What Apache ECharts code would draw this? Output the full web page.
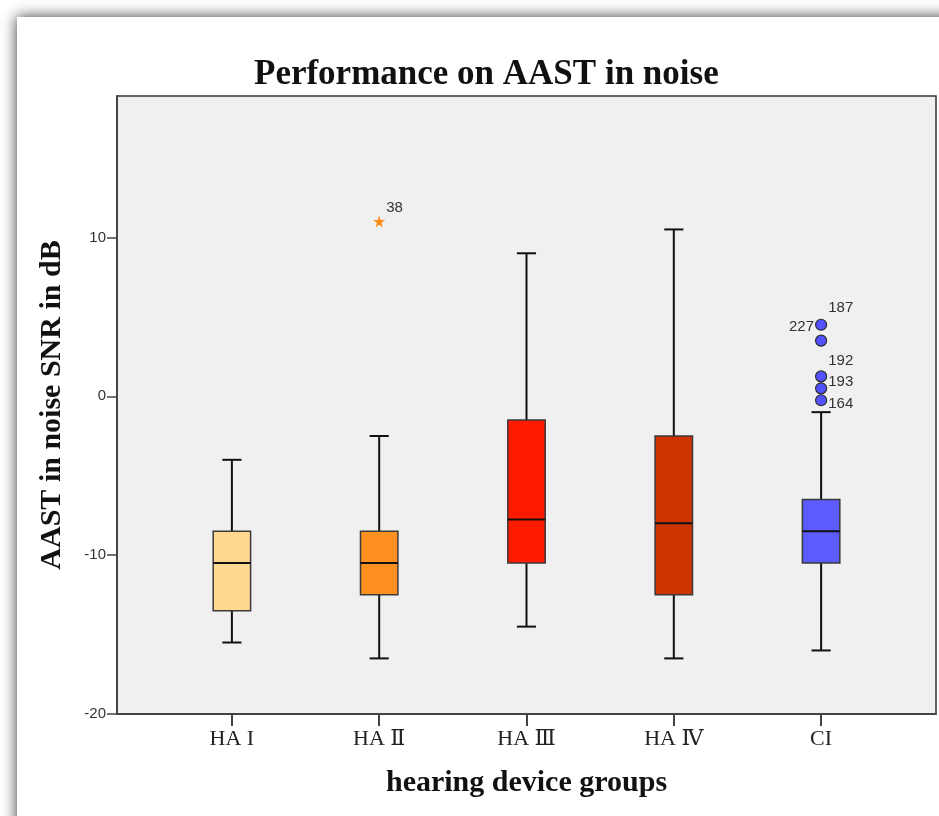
<!DOCTYPE html>
<html>
<head>
<meta charset="utf-8">
<script src="https://cdn.jsdelivr.net/npm/echarts@6/dist/echarts.min.js"></script>
<style>
  html, body { margin: 0; padding: 0; background: #fff; }
  #chart { width: 939px; height: 816px; }
</style>
</head>
<body>
<div id="chart"></div>
<script>
// groups on the x axis
const categories = ['HA I', 'HA Ⅱ', 'HA Ⅲ', 'HA Ⅳ', 'CI'];

// box statistics per group (dB)
const whiskerLow  = [-15.5, -16.5, -14.5, -16.5, -16];
const quartile1   = [-13.5, -12.5, -10.5, -12.5, -10.5];
const medians     = [-10.5, -10.5, -7.75, -8, -8.5];
const quartile3   = [-8.5, -8.5, -1.5, -2.5, -6.5];
const whiskerHigh = [-4, -2.5, 9, 10.5, -1];

// extreme value in HA II (case 38)
const extremeValues = [11];
const extremeLabels = ['38'];

// outliers in CI
const outlierValues = [4.5, 3.5, 1.25, 0.5, -0.25];
const outlierLabels = ['227', '187', '192', '193', '164'];

const yTicks = [-20, -10, 0, 10];

// styling
const boxColors = ['#ffd98f', '#ff8f1f', '#ff1a00', '#cc3300', '#5b5bff'];
const outlierLabelPlace = [
  { position: 'left', offset: [0, 2] },
  { position: 'right', offset: [0, -33] },
  { position: 'right', offset: [0, -16] },
  { position: 'right', offset: [0, -6] },
  { position: 'right', offset: [0, 4] }
];
const serif = '"Liberation Serif", "DejaVu Serif", "Times New Roman", serif';
const sans = '"Liberation Sans", Arial, sans-serif';

const boxData = categories.map(function (c, i) {
  return [i, whiskerLow[i], quartile1[i], medians[i], quartile3[i], whiskerHigh[i]];
});

function renderBox(params, api) {
  const x = api.value(0);
  const unit = api.size([1, 0])[0];
  const half = unit * 0.127;
  const cap = unit * 0.065;
  const low = api.coord([x, api.value(1)]);
  const q1 = api.coord([x, api.value(2)]);
  const med = api.coord([x, api.value(3)]);
  const q3 = api.coord([x, api.value(4)]);
  const high = api.coord([x, api.value(5)]);
  const cx = low[0];
  const line = { stroke: '#111', lineWidth: 2 };
  return {
    type: 'group',
    children: [
      { type: 'line', shape: { x1: cx, y1: low[1], x2: cx, y2: q1[1] }, style: line },
      { type: 'line', shape: { x1: cx, y1: q3[1], x2: cx, y2: high[1] }, style: line },
      { type: 'line', shape: { x1: cx - cap, y1: low[1], x2: cx + cap, y2: low[1] }, style: line },
      { type: 'line', shape: { x1: cx - cap, y1: high[1], x2: cx + cap, y2: high[1] }, style: line },
      {
        type: 'rect',
        shape: { x: cx - half, y: q3[1], width: half * 2, height: q1[1] - q3[1] },
        style: { fill: boxColors[params.dataIndex], stroke: '#3a3a3a', lineWidth: 1.5 }
      },
      { type: 'line', shape: { x1: cx - half, y1: med[1], x2: cx + half, y2: med[1] }, style: line }
    ]
  };
}

const chart = echarts.init(document.getElementById('chart'));

chart.setOption({
  backgroundColor: '#fff',
  animation: false,
  graphic: [{
    type: 'rect',
    z: -10,
    shape: { x: 17, y: 17, width: 1000, height: 900 },
    style: { fill: '#fff', shadowBlur: 14, shadowColor: 'rgba(0,0,0,0.8)' }
  }],
  title: {
    text: 'Performance on AAST in noise',
    left: 249,
    top: 52,
    textStyle: { fontFamily: serif, fontWeight: 'bold', fontSize: 35, color: '#111' }
  },
  grid: {
    left: 117, top: 96, right: 3, bottom: 102,
    show: true,
    backgroundColor: '#f0f0f0',
    borderColor: '#333',
    borderWidth: 1.5
  },
  xAxis: {
    type: 'value',
    min: -0.78,
    max: 4.78,
    name: 'hearing device groups',
    nameLocation: 'middle',
    nameGap: 54,
    nameTextStyle: { fontFamily: serif, fontWeight: 'bold', fontSize: 30, color: '#111' },
    splitLine: { show: false },
    axisLine: { onZero: false, lineStyle: { color: '#444', width: 2 } },
    axisTick: { customValues: [0, 1, 2, 3, 4], length: 12, lineStyle: { color: '#444', width: 2 } },
    axisLabel: {
      customValues: [0, 1, 2, 3, 4],
      formatter: function (v) { return categories[Math.round(v)]; },
      margin: 14,
      fontFamily: serif,
      fontSize: 22,
      color: '#222'
    }
  },
  yAxis: {
    type: 'value',
    min: -20,
    max: 18.9,
    name: 'AAST in noise SNR in dB',
    nameLocation: 'middle',
    nameRotate: 90,
    nameGap: 50,
    nameTextStyle: { fontFamily: serif, fontWeight: 'bold', fontSize: 30, color: '#111' },
    splitLine: { show: false },
    axisLine: { show: true, onZero: false, lineStyle: { color: '#444', width: 2 } },
    axisTick: { show: true, customValues: yTicks, length: 10, lineStyle: { color: '#444', width: 1.5 } },
    axisLabel: { customValues: yTicks, margin: 11, fontFamily: sans, fontSize: 15, color: '#333' }
  },
  series: [
    {
      type: 'custom',
      renderItem: renderBox,
      encode: { x: 0, y: [1, 2, 3, 4, 5] },
      data: boxData
    },
    {
      type: 'scatter',
      symbol: 'path://M50,0 L61,35 L98,35 L68,57 L79,91 L50,70 L21,91 L32,57 L2,35 L39,35 Z',
      symbolSize: 12,
      itemStyle: { color: '#ff8c1a', opacity: 1 },
      label: {
        show: true,
        position: 'right',
        offset: [-4, -14],
        formatter: '{b}',
        fontFamily: sans,
        fontSize: 15,
        color: '#333'
      },
      data: extremeValues.map(function (v, i) {
        return { name: extremeLabels[i], value: [1, v] };
      })
    },
    {
      type: 'scatter',
      symbol: 'circle',
      symbolSize: 11,
      itemStyle: { color: '#5252ff', borderColor: '#2a2a2a', borderWidth: 1.2, opacity: 1 },
      label: {
        show: true,
        formatter: '{b}',
        distance: 1,
        fontFamily: sans,
        fontSize: 15,
        color: '#333'
      },
      data: outlierValues.map(function (v, i) {
        return { name: outlierLabels[i], value: [4, v], label: outlierLabelPlace[i] };
      })
    }
  ]
});
</script>
</body>
</html>
